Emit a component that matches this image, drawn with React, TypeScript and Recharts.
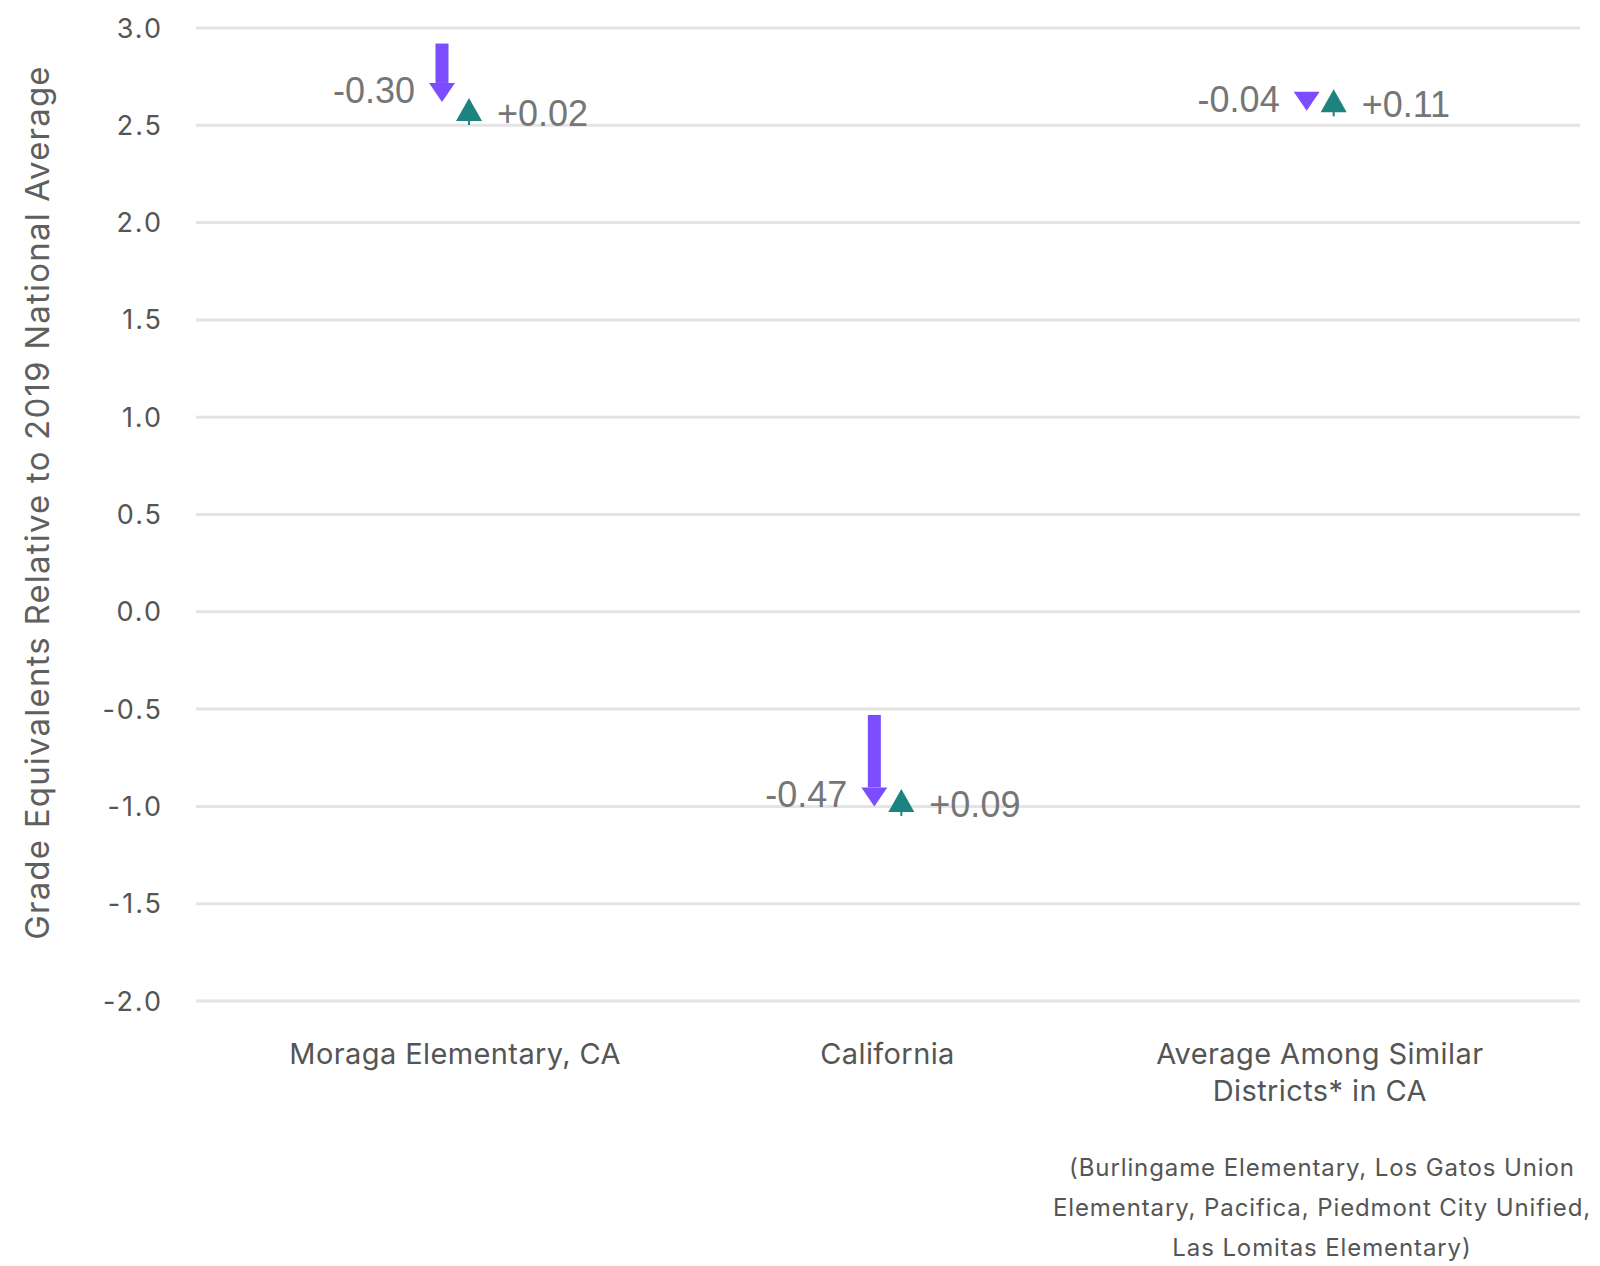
import { Bar, CartesianGrid, ComposedChart, XAxis, YAxis } from "recharts";

const categories = [
  "Moraga Elementary, CA",
  "California",
  "Average Among Similar\nDistricts* in CA",
];
const startValues = [2.92, -0.53, 2.615];
const afterDropValues = [2.62, -1.0, 2.575];
const afterGainValues = [2.64, -0.91, 2.685];
const dropLabels = ["-0.30", "-0.47", "-0.04"];
const gainLabels = ["+0.02", "+0.09", "+0.11"];
const yTicks = [-2, -1.5, -1, -0.5, 0, 0.5, 1, 1.5, 2, 2.5, 3];
const footnoteLines = [
  "(Burlingame Elementary, Los Gatos Union",
  "Elementary, Pacifica, Piedmont City Unified,",
  "Las Lomitas Elementary)",
];

const PURPLE = "#7b4dff";
const TEAL = "#1d837e";
const LABEL_GRAY = "#767676";
const AXIS_GRAY = "#555555";
const UI_FONT = "Inter, 'Noto Sans', sans-serif";
const VALUE_FONT = "'Liberation Sans', Arial, sans-serif";

const data = categories.map((name, i) => ({
  name,
  start: startValues[i],
  drop: afterDropValues[i],
  gain: afterGainValues[i],
  dropLabel: dropLabels[i],
  gainLabel: gainLabels[i],
}));

function DropArrow(props: any) {
  const { x, y, width, height, payload } = props;
  const cx = x + width / 2;
  const top = Math.min(y, y + height);
  const tip = Math.max(y, y + height);
  const headH = 19;
  const headW = 26;
  const shaftW = 13;
  const headTop = tip - headH;
  return (
    <g>
      {headTop > top && (
        <rect x={cx - shaftW / 2} y={top} width={shaftW} height={headTop - top} fill={PURPLE} />
      )}
      <polygon
        points={`${cx - headW / 2},${headTop} ${cx + headW / 2},${headTop} ${cx},${tip}`}
        fill={PURPLE}
      />
      <text
        x={cx - 27}
        y={tip + 1}
        textAnchor="end"
        fontFamily={VALUE_FONT}
        fontSize={36}
        fill={LABEL_GRAY}
      >
        {payload.dropLabel}
      </text>
    </g>
  );
}

function GainArrow(props: any) {
  const { x, y, width, height, payload } = props;
  const cx = x + width / 2;
  const apex = Math.min(y, y + height);
  const headH = 23;
  const headW = 26;
  const base = apex + headH;
  return (
    <g>
      <rect x={cx - 1} y={base - 1} width={2} height={5} fill={TEAL} />
      <polygon
        points={`${cx},${apex} ${cx + headW / 2},${base} ${cx - headW / 2},${base}`}
        fill={TEAL}
      />
      <text
        x={cx + 28}
        y={apex + 28}
        textAnchor="start"
        fontFamily={VALUE_FONT}
        fontSize={36}
        fill={LABEL_GRAY}
      >
        {payload.gainLabel}
      </text>
    </g>
  );
}

function CategoryTick(props: any) {
  const { x, y, payload } = props;
  const lines = String(payload.value).split("\n");
  return (
    <text
      x={x}
      y={y}
      textAnchor="middle"
      fontFamily={UI_FONT}
      fontSize={29}
      letterSpacing={0.4}
      fill={AXIS_GRAY}
    >
      {lines.map((line, i) => (
        <tspan key={i} x={x} dy={i === 0 ? 61 : 37}>
          {line}
        </tspan>
      ))}
    </text>
  );
}

function YTitle(props: any) {
  const { viewBox } = props;
  const cy = viewBox.y + viewBox.height / 2 - 12;
  return (
    <text
      x={37}
      y={cy}
      transform={`rotate(-90, 37, ${cy})`}
      textAnchor="middle"
      dominantBaseline="central"
      fontFamily={UI_FONT}
      fontSize={33}
      letterSpacing={1.2}
      fill="#5f5f5f"
    >
      Grade Equivalents Relative to 2019 National Average
    </text>
  );
}

export default function App() {
  return (
    <div style={{ position: "relative", width: 1600, height: 1266, background: "#fff" }}>
      <style>{`body { margin: 0; }`}</style>
      <ComposedChart
        width={1600}
        height={1266}
        data={data}
        margin={{ top: 28, right: 20, left: 0, bottom: 205 }}
        barSize={26}
        barGap={1}
      >
        <CartesianGrid vertical={false} stroke="#e4e4e4" strokeWidth={3} />
        <XAxis
          dataKey="name"
          axisLine={false}
          tickLine={false}
          tickSize={0}
          height={60}
          interval={0}
          padding={{ left: 43, right: 44 }}
          tick={<CategoryTick />}
        />
        <YAxis
          width={196}
          domain={[-2, 3]}
          ticks={yTicks}
          axisLine={false}
          tickLine={false}
          tickSize={0}
          tickMargin={33}
          tickFormatter={(v: number) => v.toFixed(1)}
          tick={{ fontFamily: UI_FONT, fontSize: 27, fill: AXIS_GRAY, letterSpacing: 2 }}
          label={{ content: <YTitle /> }}
        />
        <Bar
          dataKey={(d: any) => [d.drop, d.start]}
          shape={<DropArrow />}
          isAnimationActive={false}
        />
        <Bar
          dataKey={(d: any) => [d.drop, d.gain]}
          shape={<GainArrow />}
          isAnimationActive={false}
        />
      </ComposedChart>
      <svg
        width={1600}
        height={1266}
        style={{ position: "absolute", left: 0, top: 0, pointerEvents: "none" }}
      >
        {footnoteLines.map((line, i) => (
          <text
            key={i}
            x={1322}
            y={1176 + i * 40}
            textAnchor="middle"
            fontFamily={UI_FONT}
            fontSize={24}
            letterSpacing={0.9}
            fill={AXIS_GRAY}
          >
            {line}
          </text>
        ))}
      </svg>
    </div>
  );
}
